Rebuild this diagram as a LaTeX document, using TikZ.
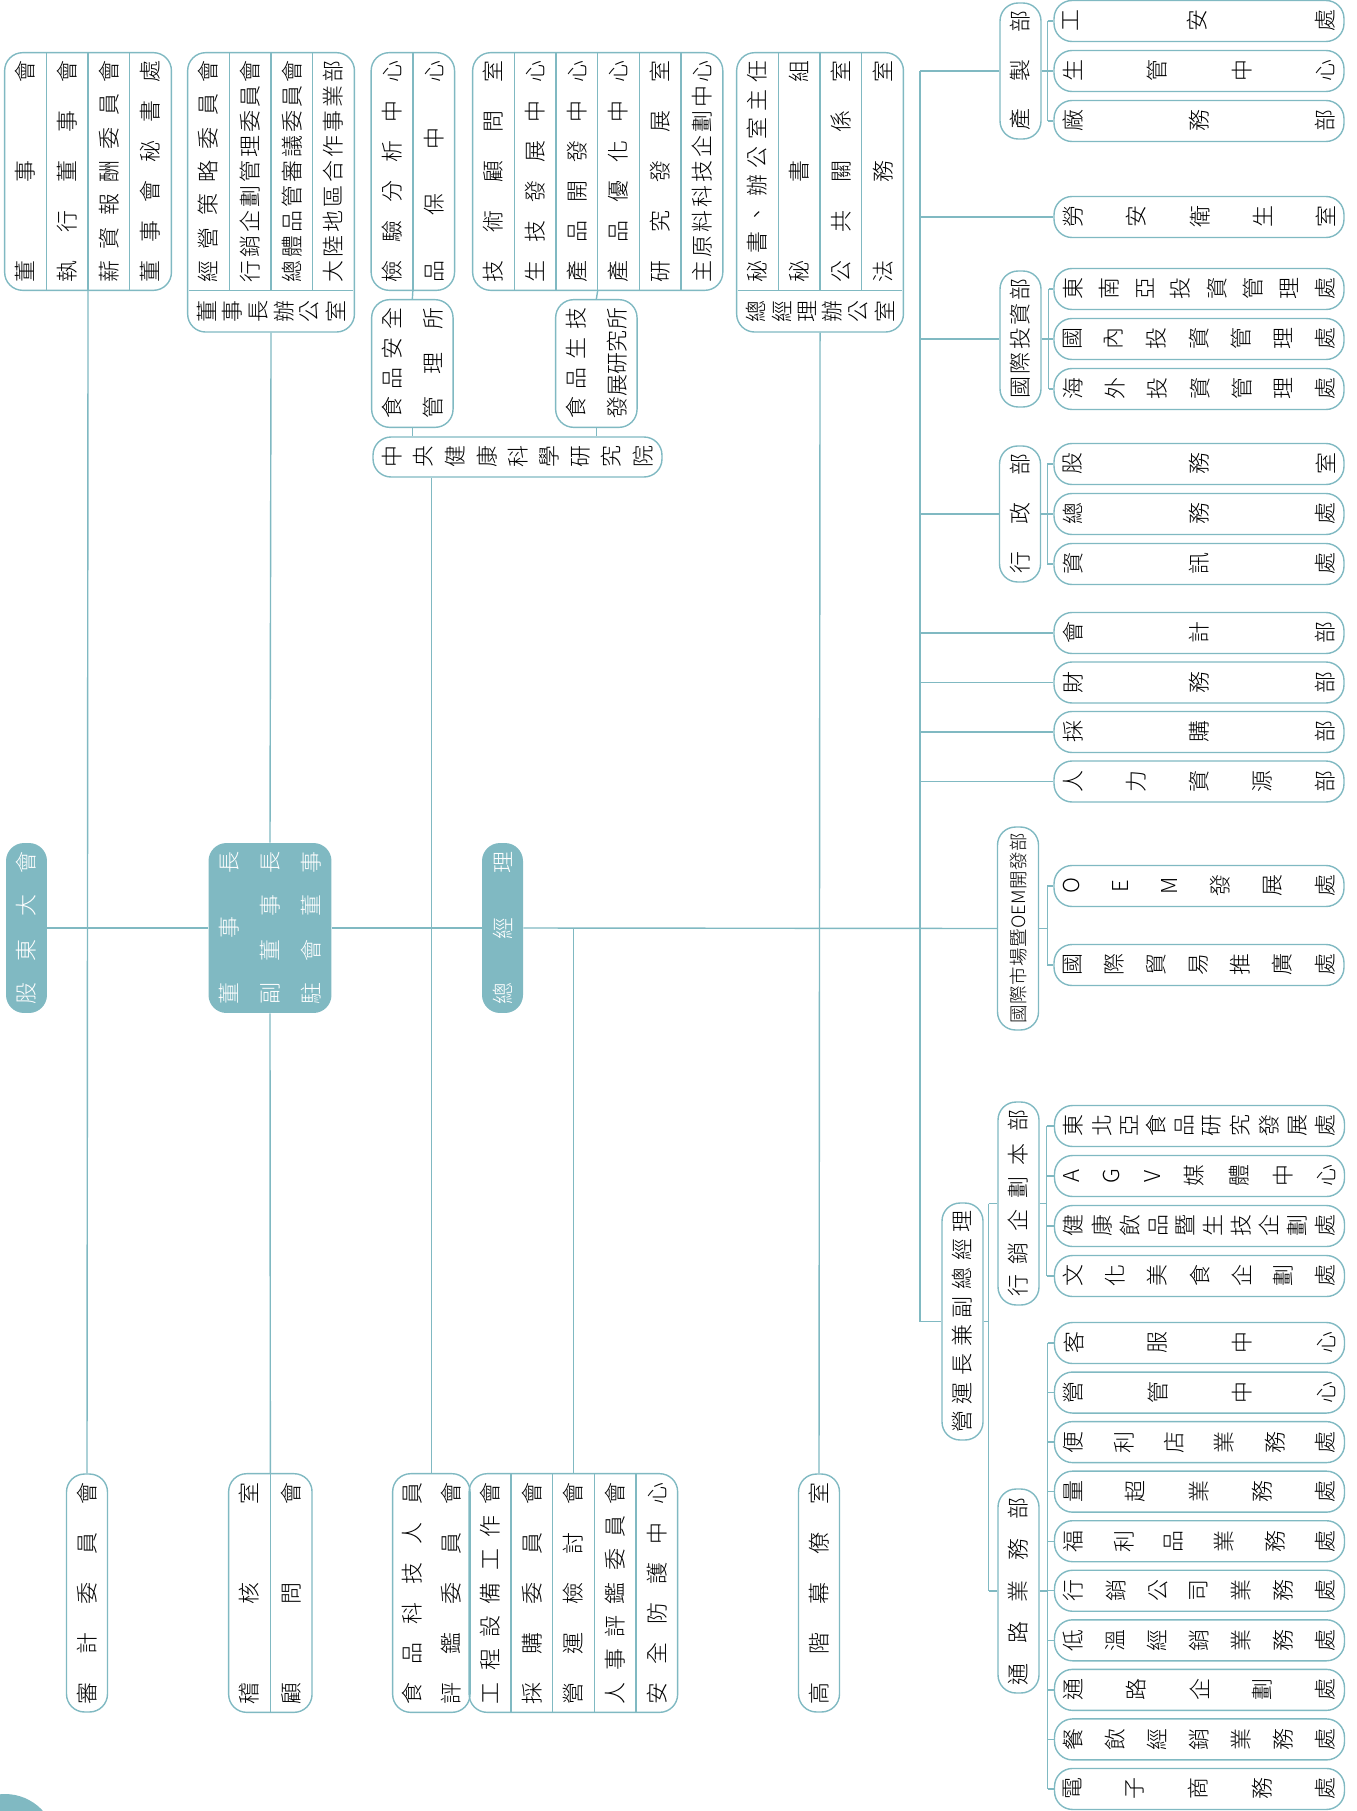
\documentclass[tikz,border=0pt]{standalone}
\usepackage{fontspec}
\IfFontExistsTF{Noto Sans CJK TC Light}
  {\setmainfont{Noto Sans CJK TC Light}}
  {\setmainfont{Noto Sans CJK TC}}
\usepackage{graphicx}
\usetikzlibrary{calc,fit,positioning}
\definecolor{orgteal}{HTML}{80B9C2}

\ExplSyntaxOn
\cs_new_protected:Npn \org_vspread:nn #1#2
  { \rotatebox{90}{ \makebox[#1][s]{ \tl_map_inline:nn {#2} { ##1 \hfill } \unskip } } }
\cs_generate_variant:Nn \org_vspread:nn { no }
\cs_new_protected:Npn \org_hspread:nn #1#2
  { \makebox[#1][s]{ \tl_map_inline:nn {#2} { \rotatebox{90}{ \makebox[1em]{##1} } \hfill } \unskip } }
\cs_generate_variant:Nn \org_hspread:nn { no }
\NewDocumentCommand \vtext { m m } { \org_vspread:no {#1} {#2} }
\NewDocumentCommand \htext { m m } { \org_hspread:no {#1} {#2} }
\ExplSyntaxOff

\tikzset{
  conn/.style={draw=orgteal,line width=0.8pt},
  orgbox/.style={draw=orgteal,line width=0.8pt,rounded corners=0.36cm,inner sep=0pt},
  vbox/.style={orgbox,minimum width=0.82cm},
  hbox/.style={orgbox,minimum width=5.8cm,minimum height=0.82cm},
  headbox/.style={fill=orgteal,rounded corners=0.36cm,inner sep=0pt,minimum width=0.82cm,minimum height=3.4cm},
  cell/.style={inner sep=0pt,minimum width=0.82cm,minimum height=4.74cm},
}

\begin{document}
\begin{tikzpicture}[x=0.02cm,y=-0.02cm,font=\fontsize{12.5}{15}\selectfont]
  \useasboundingbox (0,0) rectangle (1356,1811);

  % board committees
  \node[cell] (a1) at (25.5,171.5) {\vtext{4.44cm}{董事會}};
  \node[cell,right=0pt of a1] (a2) {\vtext{4.44cm}{執行董事會}};
  \node[cell,right=0pt of a2] (a3) {\vtext{4.44cm}{薪資報酬委員會}};
  \node[cell,right=0pt of a3] (a4) {\vtext{4.44cm}{董事會秘書處}};
  \node[orgbox,fit=(a1)(a4)] (grpA) {};
  \foreach \c in {a1,a2,a3} \draw[conn] (\c.north east) -- (\c.south east);

  % chairman office
  \node[cell] (b1) at (208.5,171.5) {\vtext{4.44cm}{經營策略委員會}};
  \node[cell,right=0pt of b1] (b2) {\vtext{4.44cm}{行銷企劃管理委員會}};
  \node[cell,right=0pt of b2] (b3) {\vtext{4.44cm}{總體品管審議委員會}};
  \node[cell,right=0pt of b3] (b4) {\vtext{4.44cm}{大陸地區合作事業部}};
  \node[cell,minimum width=3.28cm,minimum height=0.82cm,below=0pt of b2.south east] (b5) {\htext{2.96cm}{董事長辦公室}};
  \node[orgbox,fit=(b1)(b4)(b5)] (grpB) {};
  \foreach \c in {b1,b2,b3} \draw[conn] (\c.north east) -- (\c.south east);
  \draw[conn] (b5.north west) -- (b5.north east);

  % research institute
  \node[cell] (c1) at (392,171.5) {\vtext{4.44cm}{檢驗分析中心}};
  \node[cell,right=0pt of c1] (c2) {\vtext{4.44cm}{品保中心}};
  \node[orgbox,fit=(c1)(c2)] (grpC) {};
  \draw[conn] (c1.north east) -- (c1.south east);

  \node[cell,minimum width=0.8cm,minimum height=2.54cm] (f1) at (392,363.5) {\vtext{2.22cm}{食品安全}};
  \node[cell,minimum width=0.8cm,minimum height=2.54cm,right=0pt of f1] (f2) {\vtext{2.22cm}{管理所}};
  \node[orgbox,fit=(f1)(f2)] (fsm) {};

  \node[cell] (d1) at (493.5,171.5) {\vtext{4.44cm}{技術顧問室}};
  \node[cell,right=0pt of d1] (d2) {\vtext{4.44cm}{生技發展中心}};
  \node[cell,right=0pt of d2] (d3) {\vtext{4.44cm}{產品開發中心}};
  \node[cell,right=0pt of d3] (d4) {\vtext{4.44cm}{產品優化中心}};
  \node[cell,right=0pt of d4] (d5) {\vtext{4.44cm}{研究發展室}};
  \node[cell,right=0pt of d5] (d6) {\vtext{4.44cm}{主原料科技企劃中心}};
  \node[orgbox,fit=(d1)(d6)] (grpD) {};
  \foreach \c in {d1,d2,d3,d4,d5} \draw[conn] (\c.north east) -- (\c.south east);

  \node[cell,minimum width=0.8cm,minimum height=2.54cm] (g1) at (576,363.5) {\vtext{2.22cm}{食品生技}};
  \node[cell,minimum width=0.8cm,minimum height=2.54cm,right=0pt of g1] (g2) {\vtext{2.22cm}{發展研究所}};
  \node[orgbox,fit=(g1)(g2)] (fbt) {};

  \node[orgbox,minimum width=5.78cm,minimum height=0.8cm] (cahs) at (517.5,457) {\htext{5.42cm}{中央健康科學研究院}};

  \draw[conn] (grpC.south) -- (fsm.north);
  \draw[conn] (fsm.south) -- (fsm.south |- cahs.north);
  \draw[conn] (d3.south east) -- (fbt.north);
  \draw[conn] (fbt.south) -- (fbt.south |- cahs.north);

  % general manager office
  \node[cell] (e1) at (757.5,171.5) {\vtext{4.44cm}{秘書、辦公室主任}};
  \node[cell,right=0pt of e1] (e2) {\vtext{4.44cm}{秘書組}};
  \node[cell,right=0pt of e2] (e3) {\vtext{4.44cm}{公共關係室}};
  \node[cell,right=0pt of e3] (e4) {\vtext{4.44cm}{法務室}};
  \node[cell,minimum width=3.28cm,minimum height=0.82cm,below=0pt of e2.south east] (e5) {\htext{2.96cm}{總經理辦公室}};
  \node[orgbox,fit=(e1)(e4)(e5)] (grpE) {};
  \foreach \c in {e1,e2,e3} \draw[conn] (\c.north east) -- (\c.south east);
  \draw[conn] (e5.north west) -- (e5.north east);

  % main line
  \node[headbox,text=white] (gudong) at (26.5,928) {\vtext{3.08cm}{股東大會}};
  \node[headbox,minimum width=2.46cm] (chair) at (270,928) {};
  \node[inner sep=0pt,text=white] (chair1) at (229,928) {\vtext{3.08cm}{董事長}};
  \node[inner sep=0pt,text=white] (chair2) at (270,928) {\vtext{3.08cm}{副董事長}};
  \node[inner sep=0pt,text=white] (chair3) at (311,928) {\vtext{3.08cm}{駐會董事}};
  \node[headbox,text=white] (gm) at (502.5,928) {\vtext{3.08cm}{總經理}};

  % bottom row
  \node[vbox,minimum height=4.76cm] (audit) at (87,1593) {\vtext{4.44cm}{審計委員會}};
  \node[cell,minimum height=4.76cm] (j1) at (249.5,1593) {\vtext{4.44cm}{稽核室}};
  \node[cell,minimum height=4.76cm,right=0pt of j1] (j2) {\vtext{4.44cm}{顧問會}};
  \node[orgbox,fit=(j1)(j2)] (grpJ) {};
  \draw[conn] (j1.north east) -- (j1.south east);

  \node[cell,minimum width=0.76cm,minimum height=4.76cm] (k1) at (412,1593) {\vtext{4.44cm}{食品科技人員}};
  \node[cell,minimum width=0.76cm,minimum height=4.76cm,right=0pt of k1] (k2) {\vtext{4.44cm}{評鑑委員會}};
  \node[orgbox,fit=(k1)(k2)] (grpK) {};

  \node[cell,minimum height=4.76cm] (l1) at (490,1593) {\vtext{4.44cm}{工程設備工作會}};
  \node[cell,minimum height=4.76cm,right=0pt of l1] (l2) {\vtext{4.44cm}{採購委員會}};
  \node[cell,minimum height=4.76cm,right=0pt of l2] (l3) {\vtext{4.44cm}{營運檢討會}};
  \node[cell,minimum height=4.76cm,right=0pt of l3] (l4) {\vtext{4.44cm}{人事評鑑委員會}};
  \node[cell,minimum height=4.76cm,right=0pt of l4] (l5) {\vtext{4.44cm}{安全防護中心}};
  \node[orgbox,fit=(l1)(l5)] (grpL) {};
  \foreach \c in {l1,l2,l3,l4} \draw[conn] (\c.north east) -- (\c.south east);

  \node[vbox,minimum height=4.76cm] (senior) at (819,1593) {\vtext{4.44cm}{高階幕僚室}};

  % right column
  \node[vbox,minimum height=2.72cm] (mfg) at (1020.5,71) {\vtext{2.4cm}{產製部}};
  \foreach \lbl/\yy [count=\i] in {工安處/21,生管中心/71,廠務部/121}
    \node[hbox] (mfg\i) at (1199,\yy) {\htext{5.44cm}{\lbl}};
  \node[hbox] (labor) at (1199,217) {\htext{5.44cm}{勞安衛生室}};
  \node[vbox,minimum height=2.72cm] (invest) at (1020.5,339) {\vtext{2.4cm}{國際投資部}};
  \foreach \lbl/\yy [count=\i] in {東南亞投資管理處/289,國內投資管理處/339,海外投資管理處/389}
    \node[hbox] (inv\i) at (1199,\yy) {\htext{5.44cm}{\lbl}};
  \node[vbox,minimum height=2.72cm] (admin) at (1020,514) {\vtext{2.4cm}{行政部}};
  \foreach \lbl/\yy [count=\i] in {股務室/464,總務處/514,資訊處/564}
    \node[hbox] (adm\i) at (1199,\yy) {\htext{5.44cm}{\lbl}};
  \foreach \lbl/\yy/\nm in {會計部/633/acct,財務部/682.5/fin,採購部/732/purch,人力資源部/781.5/hr}
    \node[hbox] (\nm) at (1199,\yy) {\htext{5.44cm}{\lbl}};
  \node[vbox,minimum height=4.06cm,font=\fontsize{10.5}{12}\selectfont] (oem) at (1018,928.5) {\vtext{3.82cm}{國際市場暨{OEM}開發部}};
  \foreach \lbl/\yy [count=\i] in {OEM發展處/886,國際貿易推廣處/965}
    \node[hbox] (oem\i) at (1199,\yy) {\htext{5.44cm}{\lbl}};
  \node[vbox,minimum height=4.74cm] (coo) at (962.5,1321.5) {\vtext{4.46cm}{營運長兼副總經理}};
  \node[vbox,minimum height=4.06cm] (mkt) at (1018.5,1203.5) {\vtext{3.74cm}{行銷企劃本部}};
  \foreach \lbl/\yy [count=\i] in {東北亞食品研究發展處/1126,AGV媒體中心/1176,健康飲品暨生技企劃處/1226,文化美食企劃處/1276}
    \node[hbox] (mkt\i) at (1199.5,\yy) {\htext{5.44cm}{\lbl}};
  \node[vbox,minimum height=4.08cm] (chan) at (1018.5,1591) {\vtext{3.76cm}{通路業務部}};
  \foreach \lbl [count=\i from 0] in {客服中心,營管中心,便利店業務處,量超業務處,福利品業務處,行銷公司業務處,低溫經銷業務處,通路企劃處,餐飲經銷業務處,電子商務處}
    \node[hbox] (ch\i) at (1199.5,{1343+49.55*\i}) {\htext{5.44cm}{\lbl}};

  % connectors
  \draw[conn] (a2.south east) -- (audit.north);
  \draw[conn] (grpB.south) -- (chair.north);
  \draw[conn] (chair.south) -- (grpJ.north);
  \draw[conn] (cahs.south -| grpK.north) -- (grpK.north);
  \draw[conn] (l3.north |- gm.east) -- (l3.north);
  \draw[conn] (grpE.south) -- (senior.north);
  \draw[conn] (gudong.east) -- (chair.west);
  \draw[conn] (chair.east) -- (gm.west);
  \draw[conn] (gm.east) -- (oem.west);

  \coordinate (busTop) at (920,71);
  \coordinate (busBot) at (920,1321.5);
  \draw[conn] (busTop) -- (busBot);
  \draw[conn] (busTop) -- (mfg.west);
  \foreach \nm in {labor,invest,admin,acct,fin,purch,hr}
    \draw[conn] (busTop |- \nm.west) -- (\nm.west);
  \draw[conn] (busBot) -- (coo.west);

  \coordinate (mfgBr) at ($(mfg.east)+(6,0)$);
  \draw[conn] (mfg.east) -- (mfgBr);
  \draw[conn] (mfgBr |- mfg1.west) -- (mfgBr |- mfg3.west);
  \foreach \s in {mfg1,mfg2,mfg3} \draw[conn] (mfgBr |- \s.west) -- (\s.west);

  \coordinate (invBr) at ($(invest.east)+(7,0)$);
  \draw[conn] (invest.east) -- (invBr);
  \draw[conn] (invBr |- inv1.west) -- (invBr |- inv3.west);
  \foreach \s in {inv1,inv2,inv3} \draw[conn] (invBr |- \s.west) -- (\s.west);

  \coordinate (admBr) at ($(admin.east)+(6,0)$);
  \draw[conn] (admin.east) -- (admBr);
  \draw[conn] (admBr |- adm1.west) -- (admBr |- adm3.west);
  \foreach \s in {adm1,adm2,adm3} \draw[conn] (admBr |- \s.west) -- (\s.west);

  \coordinate (oemBr) at ($(oem.east)+(8,0)$);
  \draw[conn] (oem.east) -- (oemBr);
  \draw[conn] (oemBr |- oem1.west) -- (oemBr |- oem2.west);
  \foreach \s in {oem1,oem2} \draw[conn] (oemBr |- \s.west) -- (\s.west);

  \coordinate (cooBr) at ($(coo.east)+(5,0)$);
  \draw[conn] (coo.east) -- (cooBr);
  \draw[conn] (cooBr |- mkt.west) -- (cooBr |- chan.west);
  \foreach \s in {mkt,chan} \draw[conn] (cooBr |- \s.west) -- (\s.west);

  \coordinate (mktBr) at ($(mkt.east)+(7,0)$);
  \draw[conn] (mkt.east) -- (mktBr);
  \draw[conn] (mktBr |- mkt1.west) -- (mktBr |- mkt4.west);
  \foreach \s in {mkt1,mkt2,mkt3,mkt4} \draw[conn] (mktBr |- \s.west) -- (\s.west);

  \coordinate (chanBr) at ($(chan.east)+(8,0)$);
  \draw[conn] (chan.east) -- (chanBr);
  \draw[conn] (chanBr |- ch0.west) -- (chanBr |- ch9.west);
  \foreach \s in {ch0,ch1,ch2,ch3,ch4,ch5,ch6,ch7,ch8,ch9} \draw[conn] (chanBr |- \s.west) -- (\s.west);

  % page corner mark
  \fill[orgteal] (5,1845) circle[radius=51];
\end{tikzpicture}
\end{document}
